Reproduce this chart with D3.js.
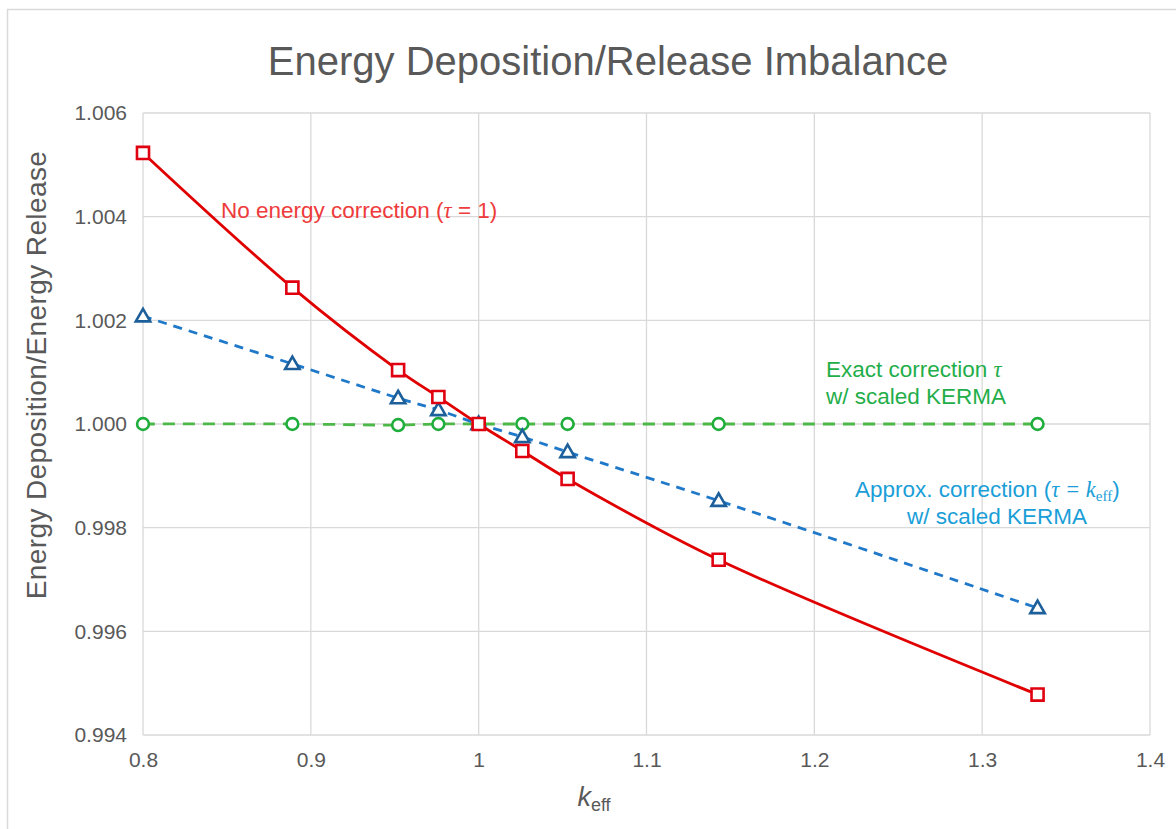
<!DOCTYPE html>
<html>
<head>
<meta charset="utf-8">
<script src="https://cdn.jsdelivr.net/npm/d3@7"></script>
<style>
  body { margin: 0; background: #fff; }
  svg { font-family: "Liberation Sans", Arial, sans-serif; }
</style>
</head>
<body>
<script>
// k_eff values shared by all three series
var keff = [0.8, 0.889, 0.952, 0.976, 1.0, 1.026, 1.053, 1.143, 1.333];

// energy deposition / energy release ratios
var noCorrection = [1.00523, 1.00263, 1.00104, 1.00052, 1.0, 0.99948, 0.99894, 0.99738, 0.99478];
var approxCorrection = [1.00208, 1.00116, 1.00050, 1.00027, 1.0, 0.99975, 0.99946, 0.99852, 0.99645];
var exactCorrection = [1.0, 1.0, 0.99998, 1.0, 1.0, 1.0, 1.0, 1.0, 1.0];

var xTicks = [0.8, 0.9, 1.0, 1.1, 1.2, 1.3, 1.4];
var yTicks = [0.994, 0.996, 0.998, 1.000, 1.002, 1.004, 1.006];

var svg = d3.select("body").append("svg").attr("width", 1176).attr("height", 829),
    margin = {top: 113, right: 26, bottom: 94, left: 143};

// outer chart border
svg.append("rect")
    .attr("x", 7.5).attr("y", 9.5)
    .attr("width", 1176).attr("height", 829)
    .attr("fill", "none").attr("stroke", "#d9d9d9").attr("stroke-width", 1.5);

var g = svg.append("g").attr("transform", "translate(" + margin.left + "," + margin.top + ")");

var x = d3.scaleLinear().domain([0.8, 1.4]).range([0, 1007]);
var y = d3.scaleLinear().domain([0.994, 1.006]).range([622, 0]);

// gridlines
g.selectAll(".hgrid").data(yTicks).enter().append("line")
    .attr("x1", 0).attr("x2", x(1.4))
    .attr("y1", function(d) { return y(d); }).attr("y2", function(d) { return y(d); })
    .attr("stroke", "#d9d9d9").attr("stroke-width", 1.3);

g.selectAll(".vgrid").data(xTicks).enter().append("line")
    .attr("x1", function(d) { return x(d); }).attr("x2", function(d) { return x(d); })
    .attr("y1", 0).attr("y2", y(0.994))
    .attr("stroke", "#d9d9d9").attr("stroke-width", 1.3);

// axes (labels only, lines come from grid)
var xAxis = g.append("g")
    .attr("transform", "translate(0," + y(0.994) + ")")
    .call(d3.axisBottom(x).tickValues(xTicks).tickSize(0).tickPadding(17)
      .tickFormat(function(d) { return d === 1 ? "1" : d3.format(".1f")(d); }));
xAxis.select(".domain").remove();
xAxis.selectAll("text").attr("fill", "#595959").style("font-size", "21px")
    .style("font-family", "Liberation Sans, Arial, sans-serif");

var yAxis = g.append("g")
    .call(d3.axisLeft(y).tickValues(yTicks).tickSize(0).tickPadding(16).tickFormat(d3.format(".3f")));
yAxis.select(".domain").remove();
yAxis.selectAll("text").attr("fill", "#595959").style("font-size", "21px")
    .style("font-family", "Liberation Sans, Arial, sans-serif");

// title
svg.append("text")
    .attr("x", 608).attr("y", 75)
    .attr("text-anchor", "middle")
    .attr("fill", "#595959")
    .style("font-size", "40px")
    .text("Energy Deposition/Release Imbalance");

// axis titles
svg.append("text")
    .attr("transform", "translate(46,375) rotate(-90)")
    .attr("text-anchor", "middle")
    .attr("fill", "#595959")
    .style("font-size", "28px")
    .style("letter-spacing", "0.4px")
    .text("Energy Deposition/Energy Release");

var xl = svg.append("text")
    .attr("x", 594).attr("y", 806)
    .attr("text-anchor", "middle")
    .attr("fill", "#595959")
    .style("font-size", "27px");
xl.append("tspan").style("font-style", "italic").text("k");
xl.append("tspan").attr("dy", 5).style("font-size", "18px").text("eff");

// series
var series = [
  {values: exactCorrection, line: "#4cb848", marker: "#1fae3c", dash: "12,8", shape: "circle"},
  {values: approxCorrection, line: "#1f78c8", marker: "#1c5f9a", dash: "9,7", shape: "triangle"},
  {values: noCorrection, line: "#e00000", marker: "#e0000f", dash: null, shape: "square"}
];

var line = d3.line()
    .x(function(d) { return x(d[0]); })
    .y(function(d) { return y(d[1]); })
    .curve(d3.curveCatmullRom.alpha(0.5));

series.forEach(function(s) {
  var pts = keff.map(function(k, i) { return [k, s.values[i]]; });

  g.append("path")
      .datum(pts)
      .attr("fill", "none")
      .attr("stroke", s.line)
      .attr("stroke-width", 2.8)
      .attr("stroke-dasharray", s.dash)
      .attr("d", line);

  var sym = s.shape === "circle" ? d3.symbolCircle : s.shape === "triangle" ? d3.symbolTriangle : d3.symbolSquare;
  var size = s.shape === "circle" ? 110 : s.shape === "triangle" ? 90 : 145;

  g.selectAll(".m-" + s.shape).data(pts).enter().append("path")
      .attr("transform", function(d) { return "translate(" + x(d[0]) + "," + (y(d[1]) + (s.shape === "triangle" ? 1 : 0)) + ")"; })
      .attr("d", d3.symbol().type(sym).size(size))
      .attr("fill", "#fff")
      .attr("stroke", s.marker)
      .attr("stroke-width", 2.6);
});

// annotations
var ann1 = svg.append("text")
    .attr("x", 221).attr("y", 218)
    .attr("fill", "#ee3b3b")
    .style("font-size", "22.5px");
ann1.append("tspan").text("No energy correction (");
ann1.append("tspan").style("font-style", "italic").style("font-family", "Liberation Serif, serif").text("τ");
ann1.append("tspan").text(" = 1)");

var ann2 = svg.append("text")
    .attr("fill", "#1fae4a")
    .style("font-size", "22.5px");
ann2.append("tspan").attr("x", 826).attr("y", 377).text("Exact correction ");
ann2.append("tspan").style("font-style", "italic").style("font-family", "Liberation Serif, serif").text("τ");
ann2.append("tspan").attr("x", 826).attr("y", 404).text("w/ scaled KERMA");

var ann3 = svg.append("text")
    .attr("fill", "#1a9ed8")
    .style("font-size", "22.5px");
ann3.append("tspan").attr("x", 855).attr("y", 497).text("Approx. correction (");
ann3.append("tspan").style("font-style", "italic").style("font-family", "Liberation Serif, serif").text("τ = k");
ann3.append("tspan").attr("dy", 4).style("font-size", "15px").style("font-family", "Liberation Serif, serif").text("eff");
ann3.append("tspan").attr("dy", -4).text(")");
svg.append("text")
    .attr("x", 997).attr("y", 524)
    .attr("text-anchor", "middle")
    .attr("fill", "#1a9ed8")
    .style("font-size", "22.5px")
    .text("w/ scaled KERMA");
</script>
</body>
</html>
